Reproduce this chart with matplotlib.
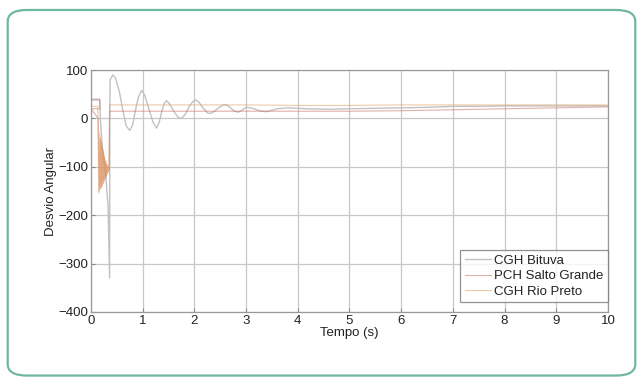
import matplotlib.pyplot as plt
from matplotlib.patches import FancyBboxPatch

plt.rcParams['font.family'] = ['Liberation Sans', 'DejaVu Sans']

# CGH Bituva (grey)
t_bituva = [0, 0.17, 0.18, 0.22, 0.28, 0.33, 0.36, 0.365, 0.37, 0.40, 0.42, 0.47, 0.55, 0.62,
            0.68, 0.75, 0.81, 0.86, 0.92, 0.98, 1.04, 1.12, 1.20, 1.27, 1.32, 1.37, 1.42,
            1.46, 1.52, 1.60, 1.68, 1.75, 1.82, 1.90, 1.98, 2.04, 2.10, 2.18, 2.25, 2.30,
            2.38, 2.48, 2.56, 2.62, 2.68, 2.76, 2.85, 2.92, 3.0, 3.1, 3.2, 3.3, 3.4, 3.5,
            3.6, 3.8, 4.2, 4.6, 5.0, 5.5, 6.0, 6.5, 7.0, 7.5, 8.0, 9.0, 10.0]
y_bituva = [38, 38, 0, -60, -110, -180, -330, 20, 80, 85, 90, 85, 55, 15,
            -15, -25, -12, 17, 45, 58, 48, 20, -8, -20, -8, 15, 32,
            37, 30, 15, 3, 0, 8, 25, 36, 38, 32, 20, 12, 10,
            14, 23, 28, 28, 24, 16, 13, 17, 23, 22, 18, 15, 14, 17,
            20, 22, 20, 19, 20, 21, 22, 23, 25, 25, 26, 26, 26]

# PCH Salto Grande (red)
t_salto = [0, 0.17, 0.17, 0.0, 0.14, 0.16, 0.18, 0.19, 0.20, 0.21, 0.22, 0.23, 0.24, 0.25,
           0.26, 0.27, 0.28, 0.29, 0.30, 0.31, 0.32, 0.33, 0.34, 0.35, 0.36, 1.0, 2.0, 3.0,
           4.0, 5.0, 6.0, 7.0, 8.0, 9.0, 10.0]
y_salto = [40, 40, 20, 20, 0, -150, -40, -145, -50, -140, -60, -135, -70, -130,
           -80, -125, -90, -120, -95, -115, -100, -110, -100, -105, 15, 15, 15, 15,
           15, 15, 16, 18, 20, 22, 24]

# CGH Rio Preto (orange)
t_preto = [0, 0.13, 0.15, 0.17, 0.18, 0.19, 0.20, 0.21, 0.22, 0.23, 0.24, 0.25, 0.26, 0.27,
           0.28, 0.29, 0.30, 0.31, 0.32, 0.33, 0.34, 0.35, 0.36, 1.0, 2.0, 3.0, 4.0, 5.0,
           6.0, 7.0, 8.0, 9.0, 10.0]
y_preto = [25, 25, -155, -30, -140, -45, -135, -55, -130, -65, -125, -75, -120, -85,
           -118, -90, -115, -95, -112, -100, -108, -100, 28, 28, 28, 28, 27, 27,
           28, 28, 28, 28, 28]

labels = ['CGH Bituva', 'PCH Salto Grande', 'CGH Rio Preto']
xticks = list(range(0, 11))
yticks = [-400, -300, -200, -100, 0, 100]

fig = plt.figure(figsize=(6.43, 3.84), dpi=100)
fig.patches.append(FancyBboxPatch((0.012, 0.022), 0.976, 0.952,
                                  boxstyle='round,pad=0,rounding_size=0.03',
                                  transform=fig.transFigure, fill=False,
                                  edgecolor='#6fb89c', linewidth=1.6))

ax = fig.add_axes([0.1415, 0.1875, 0.804, 0.630])
ax.plot(t_bituva, y_bituva, color='#c2c2c2', lw=1.0, label=labels[0])
ax.plot(t_salto, y_salto, color='#c87064', lw=0.8, alpha=0.55, label=labels[1])
ax.plot(t_preto, y_preto, color='#e0a060', lw=0.8, alpha=0.55, label=labels[2])

ax.set_xlim(0, 10)
ax.set_ylim(-400, 100)
ax.set_xticks(xticks)
ax.set_yticks(yticks)
ax.grid(True, color='#c8c8c8', lw=0.9)
ax.tick_params(direction='in', length=3, labelsize=9.5, color='#888888', pad=2,
               labelcolor='#222222')
for s in ax.spines.values():
    s.set_color('#999999')
    s.set_linewidth(0.9)
ax.set_xlabel('Tempo (s)', fontsize=9.5, labelpad=0, color='#222222')
ax.set_ylabel('Desvio Angular', fontsize=9.5, labelpad=1, color='#222222')

leg = ax.legend(loc='lower right', bbox_to_anchor=(1.0, 0.04), fontsize=9.5, frameon=True,
                fancybox=False, borderaxespad=0, handlelength=2.0, handletextpad=0.2,
                labelspacing=0.25, borderpad=0.35)
leg.get_frame().set_edgecolor('#777777')
leg.get_frame().set_linewidth(0.9)
for txt in leg.get_texts():
    txt.set_color('#222222')

fig.savefig('out.png', dpi=100)
